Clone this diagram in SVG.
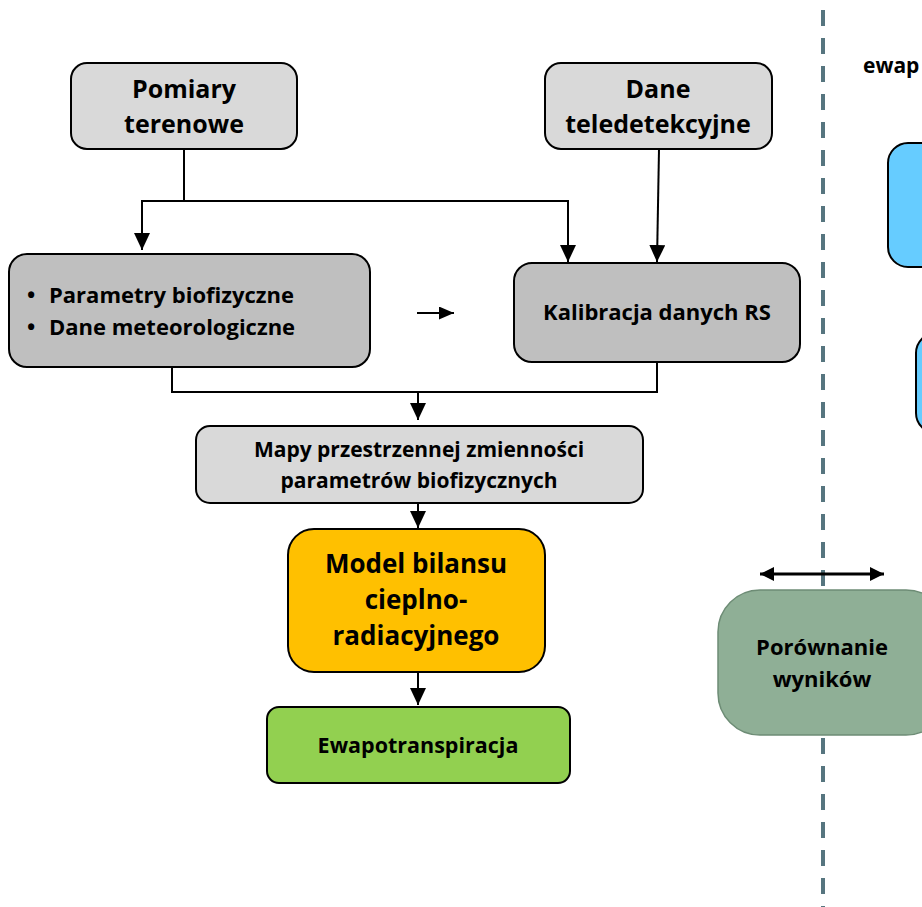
<svg xmlns="http://www.w3.org/2000/svg" width="922" height="907" viewBox="0 0 922 907">
  <defs>
    <marker id="head" viewBox="0 0 10 10" refX="10" refY="5" markerWidth="17" markerHeight="16" markerUnits="userSpaceOnUse" orient="auto" preserveAspectRatio="none">
      <path d="M0,0 L10,5 L0,10 Z" fill="#000"/>
    </marker>
    <marker id="headS" viewBox="0 0 10 10" refX="10" refY="5" markerWidth="15" markerHeight="13" markerUnits="userSpaceOnUse" orient="auto" preserveAspectRatio="none">
      <path d="M0,0 L10,5 L0,10 Z" fill="#000"/>
    </marker>
    <marker id="headB" viewBox="0 0 10 10" refX="10" refY="5" markerWidth="14" markerHeight="14" markerUnits="userSpaceOnUse" orient="auto-start-reverse" preserveAspectRatio="none">
      <path d="M0,0 L10,5 L0,10 Z" fill="#000"/>
    </marker>
  </defs>
  <style>
    text { font-family: "Open Sans", Lato, "Liberation Sans", sans-serif; font-weight: bold; fill: #000; }
    .box { stroke: #000; stroke-width: 2; }
    .light { fill: #d9d9d9; }
    .mid { fill: #bfbfbf; }
    .conn { fill: none; stroke: #000; stroke-width: 2; }
    .c { text-anchor: middle; }
  </style>

  <rect width="922" height="907" fill="#fff"/>

  <!-- dashed divider -->
  <line x1="823" y1="10" x2="823" y2="907" stroke="#56757f" stroke-width="4" stroke-dasharray="16 12"/>

  <!-- connectors -->
  <g id="connectors">
    <polyline class="conn" points="184,149 184,201"/>
    <polyline class="conn" points="184,201 142,201 142,250" marker-end="url(#head)"/>
    <polyline class="conn" points="184,201 568,201 568,262" marker-end="url(#head)"/>
    <line class="conn" x1="659" y1="149" x2="657" y2="262" marker-end="url(#head)"/>
    <line class="conn" x1="417" y1="313" x2="454" y2="313" marker-end="url(#headS)"/>
    <polyline class="conn" points="172,367 172,392 657,392 657,362"/>
    <line class="conn" x1="418" y1="392" x2="418" y2="420" marker-end="url(#head)"/>
    <line class="conn" x1="418" y1="503" x2="418" y2="528" marker-end="url(#head)"/>
    <line class="conn" x1="418" y1="672" x2="418" y2="705" marker-end="url(#head)"/>
    <line x1="760" y1="574" x2="884" y2="574" stroke="#000" stroke-width="3" marker-start="url(#headB)" marker-end="url(#headB)"/>
  </g>

  <g id="pomiary">
    <rect class="box light" x="71" y="63" width="226" height="86" rx="16"/>
    <text class="c" x="184" y="98" font-size="25">Pomiary</text>
    <text class="c" x="184" y="133" font-size="25">terenowe</text>
  </g>

  <g id="dane">
    <rect class="box light" x="545" y="63" width="227" height="86" rx="16"/>
    <text class="c" x="658" y="98" font-size="25">Dane</text>
    <text class="c" x="658" y="133" font-size="25">teledetekcyjne</text>
  </g>

  <g id="parametry">
    <rect class="box mid" x="9" y="254" width="361" height="113" rx="18"/>
    <text x="27" y="303" font-size="22">•</text>
    <text x="49" y="303" font-size="22">Parametry biofizyczne</text>
    <text x="27" y="335" font-size="22">•</text>
    <text x="49" y="335" font-size="22">Dane meteorologiczne</text>
  </g>

  <g id="kalibracja">
    <rect class="box mid" x="514" y="263" width="286" height="99" rx="18"/>
    <text class="c" x="657" y="320" font-size="22">Kalibracja danych RS</text>
  </g>

  <g id="mapy">
    <rect class="box light" x="196" y="426" width="447" height="77" rx="14"/>
    <text class="c" x="419" y="457" font-size="21">Mapy przestrzennej zmienności</text>
    <text class="c" x="419" y="488" font-size="21">parametrów biofizycznych</text>
  </g>

  <g id="model">
    <rect class="box" x="288" y="529" width="257" height="143" rx="26" fill="#ffc000"/>
    <text class="c" x="416" y="573" font-size="26">Model bilansu</text>
    <text class="c" x="416" y="609" font-size="26">cieplno-</text>
    <text class="c" x="416" y="645" font-size="26">radiacyjnego</text>
  </g>

  <g id="ewapotranspiracja">
    <rect class="box" x="267" y="707" width="303" height="76" rx="12" fill="#92d050"/>
    <text class="c" x="418" y="753" font-size="21.5">Ewapotranspiracja</text>
  </g>

  <g id="naglowek">
    <text x="863" y="73" font-size="21">ewap</text>
  </g>

  <g id="niebieski1">
    <rect class="box" x="888" y="143" width="80" height="124" rx="20" fill="#66ccff"/>
  </g>
  <g id="niebieski2">
    <rect class="box" x="916" y="333" width="60" height="100" rx="20" fill="#66ccff"/>
  </g>

  <g id="porownanie">
    <rect x="718" y="590" width="230" height="145" rx="42" fill="#8faf96" stroke="#6d8c75" stroke-width="1.5"/>
    <text class="c" x="822" y="655" font-size="22">Porównanie</text>
    <text class="c" x="822" y="687" font-size="22">wyników</text>
  </g>
</svg>
